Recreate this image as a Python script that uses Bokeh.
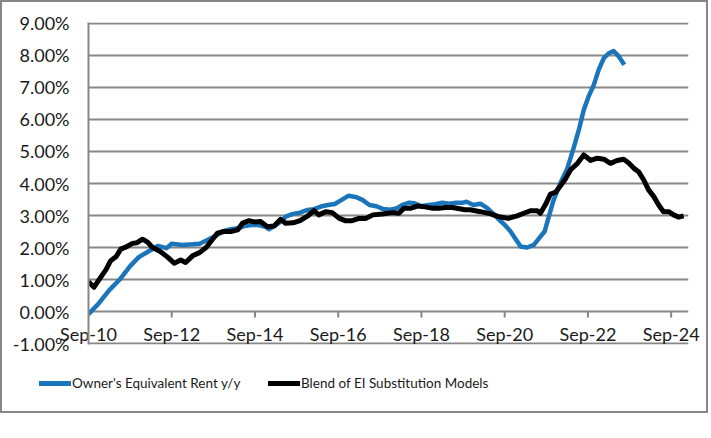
from bokeh.plotting import figure
from bokeh.models import FixedTicker, PrintfTickFormatter, Range1d, Div, LinearAxis
from bokeh.layouts import column
from bokeh.embed import file_html
from bokeh.resources import INLINE

# months since Sep-2010
oer_month = [0, 3, 6, 9, 12, 14.5, 17.5, 20, 22.5, 24, 27, 30, 32, 34, 36, 37.5, 39, 41, 43, 45,
             47, 49, 51, 52, 54, 55.5, 57, 59, 61, 63, 65, 67, 69, 71, 73, 75, 77, 79, 81, 83,
             85, 87, 89, 90.5, 92.5, 94, 96, 98, 100, 102, 104, 106, 108, 109, 111, 113, 115, 117,
             118.5, 120, 121.7, 123, 124.6, 126.5, 128.4, 130.3, 131.5, 132.5, 134, 136, 138, 140,
             141.4, 142.8, 144.2, 145.7, 147.1, 148.6, 150, 151.4, 152.9, 154.5]
oer_value = [-0.08, 0.26, 0.67, 1.0, 1.42, 1.70, 1.89, 2.05, 1.98, 2.12, 2.08, 2.10, 2.12, 2.22, 2.33,
             2.42, 2.52, 2.57, 2.60, 2.67, 2.70, 2.70, 2.65, 2.57, 2.70, 2.82, 2.97, 3.05, 3.09, 3.17,
             3.20, 3.28, 3.33, 3.36, 3.49, 3.62, 3.58, 3.49, 3.33, 3.29, 3.20, 3.18, 3.23, 3.33, 3.40,
             3.38, 3.29, 3.33, 3.35, 3.40, 3.37, 3.40, 3.40, 3.43, 3.33, 3.37, 3.23, 3.02, 2.86, 2.71,
             2.50, 2.29, 2.03, 2.00, 2.08, 2.34, 2.50, 2.88, 3.45, 4.00, 4.45, 5.15, 5.68, 6.30, 6.72,
             7.08, 7.55, 7.92, 8.07, 8.14, 7.97, 7.71]

blend_month = [0, 1.6, 3, 5, 6.4, 8, 9.3, 10.7, 12.7, 14, 15.6, 17, 18.4, 20.8, 22.8, 24.7, 26.6, 28,
               30, 32, 34, 35.2, 37.2, 39, 41, 43, 44.4, 46.3, 47.7, 49.6, 51.6, 53.5, 55.4, 56.8,
               59, 61, 63, 65, 66.4, 68.4, 70.3, 72.2, 74, 76, 78, 80, 82, 84.7, 87.6, 89.5, 91, 93,
               95, 97, 99, 101, 103, 105, 107, 108.5, 110, 113, 116, 118, 121, 123.6, 125.5, 127.4,
               129.4, 130.3, 131.8, 133.2, 134.6, 136.1, 137.5, 139, 141, 142.8, 144.8, 146.7, 148.6,
               150.5, 152.4, 154.3, 155.7, 157.2, 158.6, 160.1, 161.5, 163, 164.4, 165.8, 167.3,
               168.7, 170.2, 171.6]
blend_value = [0.93, 0.76, 0.99, 1.30, 1.59, 1.72, 1.95, 2.01, 2.13, 2.15, 2.26, 2.17, 2.01, 1.87, 1.70,
               1.51, 1.61, 1.53, 1.74, 1.84, 2.01, 2.18, 2.45, 2.50, 2.50, 2.55, 2.76, 2.84, 2.80, 2.81,
               2.65, 2.67, 2.88, 2.76, 2.77, 2.84, 2.97, 3.15, 3.02, 3.12, 3.09, 2.92, 2.84, 2.84, 2.91,
               2.91, 3.02, 3.05, 3.09, 3.07, 3.23, 3.23, 3.30, 3.27, 3.23, 3.23, 3.25, 3.25, 3.21, 3.18,
               3.18, 3.12, 3.05, 2.97, 2.91, 2.99, 3.07, 3.15, 3.15, 3.07, 3.35, 3.67, 3.72, 3.93, 4.14,
               4.43, 4.63, 4.89, 4.72, 4.79, 4.76, 4.63, 4.72, 4.76, 4.65, 4.48, 4.37, 4.11, 3.80, 3.59,
               3.33, 3.12, 3.12, 3.02, 2.95, 2.99]

x_tick_pos = [0, 24, 48, 72, 96, 120, 144, 168]
x_tick_labels = ["Sep-10", "Sep-12", "Sep-14", "Sep-16", "Sep-18", "Sep-20", "Sep-22", "Sep-24"]
y_ticks = [-1, 0, 1, 2, 3, 4, 5, 6, 7, 8, 9]
X_MAX = 173

series_names = ["Owner's Equivalent Rent y/y", "Blend of EI Substitution Models"]
series_colors = ["#1B75BB", "#000000"]

GREY = "#878787"
FONT = "Lato"
TICK_LEN = 0.19   # tick mark length below the 0% axis, in y units
FRAME_W = 600     # plot-area width in px

p = figure(width=704, height=365, output_backend="svg", toolbar_location=None,
           x_range=Range1d(0, X_MAX), y_range=Range1d(-1.03, 9.03),
           min_border_left=86, min_border_right=18, min_border_top=20, min_border_bottom=23)
p.outline_line_color = None
p.background_fill_color = None
p.border_fill_color = None
p.grid.visible = False

# gridlines: inward ticks of an unlabeled right-hand axis spanning the plot area
grid_axis = LinearAxis(ticker=FixedTicker(ticks=y_ticks), level="underlay",
                       axis_line_color=None, major_tick_line_color=GREY,
                       major_tick_line_width=2, major_tick_in=FRAME_W, major_tick_out=0,
                       minor_tick_line_color=None,
                       major_label_overrides={t: "" for t in y_ticks},
                       major_label_text_font_size="1px", major_label_standoff=0)
p.add_layout(grid_axis, "right")

p.line(oer_month, oer_value, line_color=series_colors[0], line_width=4.5, line_join="round")
p.line(blend_month, blend_value, line_color=series_colors[1], line_width=5, line_join="round")

# category-axis tick marks hanging below the 0% line (one path, gaps between marks)
tick_xs, tick_ys = [], []
for t in x_tick_pos:
    tick_xs += [t, t, float("nan")]
    tick_ys += [0, -TICK_LEN, float("nan")]
p.line(tick_xs, tick_ys, line_color=GREY, line_width=2)

# x axis: labels only
p.xaxis.ticker = FixedTicker(ticks=x_tick_pos)
p.xaxis.major_label_overrides = {t: l for t, l in zip(x_tick_pos, x_tick_labels)}
p.xaxis.axis_line_color = None
p.xaxis.major_tick_line_color = None
p.xaxis.major_tick_out = 0
p.xaxis.major_tick_in = 0
p.xaxis.minor_tick_line_color = None
p.xaxis.major_label_standoff = -22
p.xaxis.major_label_text_font = FONT
p.xaxis.major_label_text_font_size = "18px"
p.xaxis.major_label_text_color = "#1a1a1a"

# left y axis: line and percentage labels
p.yaxis[0].ticker = FixedTicker(ticks=y_ticks)
p.yaxis[0].formatter = PrintfTickFormatter(format="%.2f%%")
p.yaxis[0].axis_line_color = GREY
p.yaxis[0].axis_line_width = 2
p.yaxis[0].major_tick_line_color = None
p.yaxis[0].major_tick_out = 0
p.yaxis[0].major_tick_in = 0
p.yaxis[0].minor_tick_line_color = None
p.yaxis[0].major_label_standoff = 19
p.yaxis[0].major_label_text_font = FONT
p.yaxis[0].major_label_text_font_size = "18px"
p.yaxis[0].major_label_text_color = "#1a1a1a"

# legend strip below the plot
key_left = [37, 266]     # px position of each legend key
label_left = [70, 299]   # px position of each legend label
parts = []
for name, color, kx, lx in zip(series_names, series_colors, key_left, label_left):
    parts.append(f'<span style="position:absolute;left:{kx}px;top:14px;width:32px;height:5px;'
                 f'background:{color};"></span>')
    parts.append(f'<span style="position:absolute;left:{lx}px;top:6px;white-space:nowrap;">'
                 f'{name}</span>')
legend_html = ('<div style="position:relative;width:704px;height:44px;font-family:Lato;'
               'font-size:13.5px;line-height:20px;color:#1a1a1a;">' + "".join(parts) + '</div>')
legend_div = Div(text=legend_html, width=704, height=44, margin=0)

layout = column(p, legend_div, spacing=0, styles={"border": "2px solid " + GREY})

open("out.html", "w").write(file_html(layout, INLINE))
